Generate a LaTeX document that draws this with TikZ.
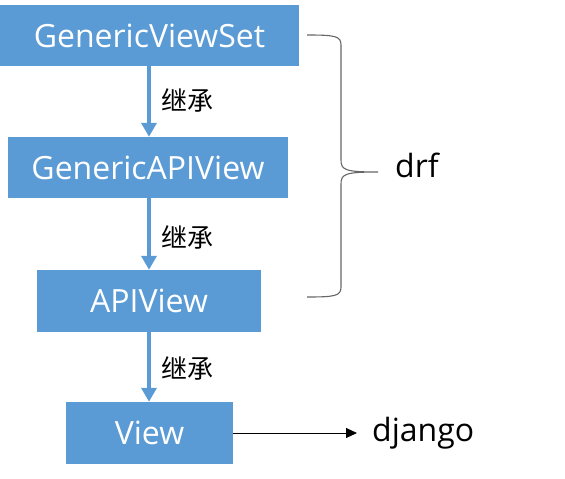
\documentclass[tikz,border=0pt]{standalone}
\usepackage{fontspec}
\setmainfont{Open Sans}
\newfontfamily\cjk{Noto Sans CJK SC}
\usetikzlibrary{arrows.meta}
\definecolor{boxblue}{HTML}{5B9BD5}
\begin{document}
\begin{tikzpicture}[x=1pt,y=-1pt,
  cls/.style={fill=boxblue,text=white,inner sep=0pt,font=\fontsize{32}{32}\selectfont},
  inh/.style={draw=boxblue,line width=4.5pt,-{Triangle[length=14pt,width=15pt]}},
  lbl/.style={font=\cjk\fontsize{26}{26}\selectfont,anchor=west,inner sep=0pt},
  big/.style={font=\fontsize{32}{32}\selectfont,inner sep=0pt}]
\useasboundingbox (0,0) rectangle (565,479);
\node[cls,minimum width=299pt,minimum height=61pt] (gvs) at (149.5,35.5) {GenericViewSet};
\node[cls,minimum width=280pt,minimum height=61pt] (gapi) at (148,167.5) {GenericAPIView};
\node[cls,minimum width=224pt,minimum height=62pt] (api) at (149,301) {APIView};
\node[cls,minimum width=167pt,minimum height=62pt] (view) at (149.5,433) {View};
\coordinate (a1) at (149,66);
\coordinate (a2) at (149,198);
\coordinate (a3) at (149,332);
\draw[inh] (a1) -- (a1 |- gapi.north);
\draw[inh] (a2) -- (a2 |- api.north);
\draw[inh] (a3) -- (a3 |- view.north);
\node[lbl] (l1) at (161,100) {继承};
\node[lbl] (l2) at (161,237) {继承};
\node[lbl] (l3) at (161,368) {继承};
\node[big,anchor=west] (dj) at (372,433) {django};
\coordinate (djtip) at (357,433);
\draw[-{Triangle[length=11pt,width=10pt]},line width=0.8pt] (view.east) -- (djtip);
\node[big,anchor=west] (drf) at (395,165) {drf};
\coordinate (bt) at (307,35);
\coordinate (bb) at (307,297);
\coordinate (bm) at (378,172);
\draw[gray!80!black,line width=1.1pt]
  (bt) .. controls (335,35) and (341,36) .. (341,45)
  -- (341,160) .. controls (341,170) and (345,172) .. (bm)
  .. controls (345,172) and (341,174) .. (341,184)
  -- (341,287) .. controls (341,296) and (335,297) .. (bb);
\end{tikzpicture}
\end{document}
